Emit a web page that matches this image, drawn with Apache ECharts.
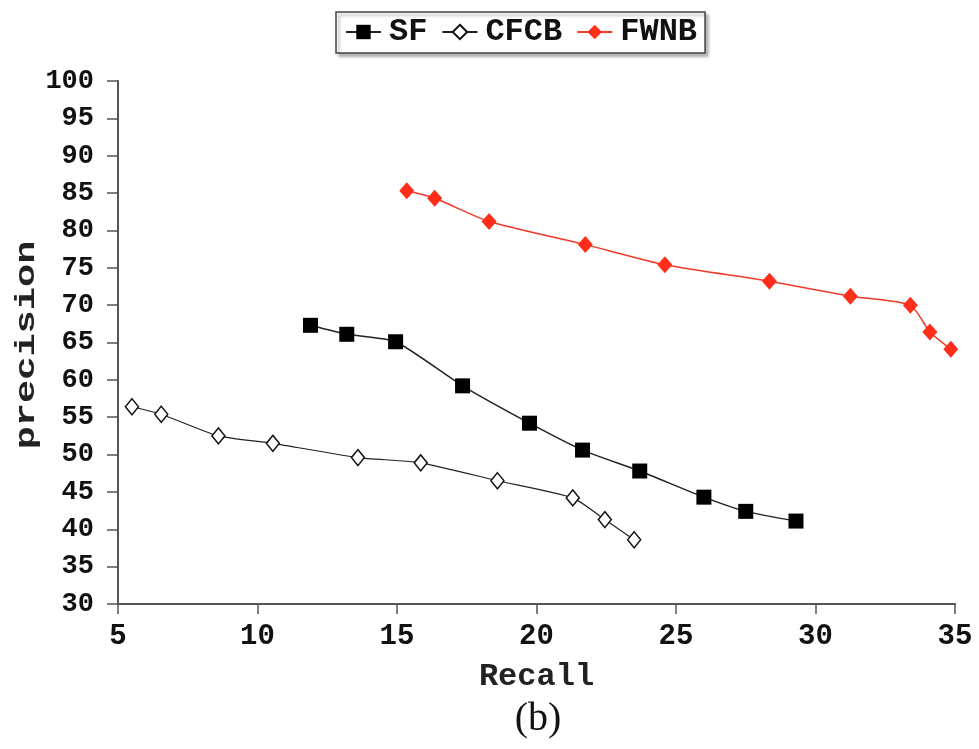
<!DOCTYPE html>
<html>
<head>
<meta charset="utf-8">
<script src="https://cdn.jsdelivr.net/npm/echarts@6/dist/echarts.min.js"></script>
<style>html,body{margin:0;padding:0;background:#fff}#c{width:979px;height:749px}</style>
</head>
<body>
<div id="c"></div>
<script>
const seriesNames = ['SF', 'CFCB', 'FWNB'];
const sfRecall = [11.9, 13.2, 14.95, 17.35, 19.75, 21.65, 23.7, 26.0, 27.5, 29.3];
const sfPrecision = [67.3, 66.1, 65.1, 59.2, 54.2, 50.6, 47.8, 44.3, 42.4, 41.1];
const cfcbRecall = [5.5, 6.55, 8.6, 10.55, 13.6, 15.85, 18.6, 21.3, 22.45, 23.5];
const cfcbPrecision = [56.4, 55.4, 52.5, 51.5, 49.6, 48.9, 46.5, 44.2, 41.3, 38.6];
const fwnbRecall = [15.35, 16.35, 18.3, 21.75, 24.6, 28.35, 31.25, 33.4, 34.1, 34.85];
const fwnbPrecision = [85.3, 84.3, 81.2, 78.1, 75.4, 73.2, 71.2, 70.0, 66.4, 64.1];
const xTicks = {min: 5, max: 35, interval: 5};
const yTicks = {min: 30, max: 100, interval: 5};
const xTitle = 'Recall';
const yTitle = 'precision';
const caption = '(b)';

const pair = (xs, ys) => xs.map((x, i) => [x, ys[i]]);
const mono = '"Liberation Mono", "DejaVu Sans Mono", monospace';

const chart = echarts.init(document.getElementById('c'));
chart.setOption({
  animation: false,
  backgroundColor: '#fff',
  graphic: [
    {
      type: 'text', x: 538, y: 719,
      style: {text: caption, font: '40px "Liberation Serif", serif', fill: '#111',
              textAlign: 'center', textVerticalAlign: 'middle'}
    },
    {
      type: 'text', x: 27, y: 345, rotation: Math.PI / 2, scaleX: 1.38, scaleY: 1,
      style: {text: yTitle, font: 'bold 28px "Liberation Mono", monospace', fill: '#222',
              textAlign: 'center', textVerticalAlign: 'middle'}
    }
  ],
  legend: {
    data: seriesNames,
    top: 12, left: 336,
    padding: [4, 8, 5, 9],
    itemGap: 14, itemWidth: 35, itemHeight: 18,
    borderColor: '#444', borderWidth: 1.5,
    shadowColor: 'rgba(0,0,0,0.3)', shadowOffsetX: 3, shadowOffsetY: 3, shadowBlur: 3,
    backgroundColor: '#fff',
    textStyle: {fontFamily: mono, fontSize: 32, fontWeight: 'bold', color: '#111', padding: [0, 0, 0, 3]}
  },
  grid: {left: 118, right: 24, top: 81, bottom: 145, outerBoundsMode: 'none', containLabel: false},
  xAxis: {
    type: 'value', min: xTicks.min, max: xTicks.max, interval: xTicks.interval,
    name: xTitle, nameLocation: 'middle', nameGap: 57,
    nameTextStyle: {fontFamily: mono, fontSize: 32, fontWeight: 'bold', color: '#222'},
    axisLine: {show: true, onZero: false, lineStyle: {color: '#555', width: 2}},
    axisTick: {show: true, length: 10, lineStyle: {color: '#555', width: 1.5}},
    axisLabel: {fontFamily: mono, fontSize: 29, fontWeight: 'bold', color: '#111', margin: 18},
    splitLine: {show: false}
  },
  yAxis: {
    type: 'value', min: yTicks.min, max: yTicks.max, interval: yTicks.interval,
    axisLine: {show: true, onZero: false, lineStyle: {color: '#555', width: 2}},
    axisTick: {show: true, length: 11, lineStyle: {color: '#555', width: 1.5}},
    axisLabel: {fontFamily: mono, fontSize: 27, fontWeight: 'bold', color: '#111', margin: 24},
    splitLine: {show: false}
  },
  series: [
    {
      name: 'SF', type: 'line', data: pair(sfRecall, sfPrecision),
      symbol: 'rect', symbolSize: 15, smooth: 0.2,
      lineStyle: {color: '#222', width: 1.5},
      itemStyle: {color: '#000', borderColor: '#000', borderWidth: 0}
    },
    {
      name: 'CFCB', type: 'line', data: pair(cfcbRecall, cfcbPrecision),
      symbol: 'diamond', symbolSize: [13, 16], smooth: 0.2,
      lineStyle: {color: '#222', width: 1.2},
      itemStyle: {color: '#fff', borderColor: '#111', borderWidth: 1.5}
    },
    {
      name: 'FWNB', type: 'line', data: pair(fwnbRecall, fwnbPrecision),
      symbol: 'diamond', symbolSize: [15, 17], smooth: 0.2,
      lineStyle: {color: '#f03a2a', width: 1.5},
      itemStyle: {color: '#ff2d1a', borderWidth: 0}
    }
  ]
});
</script>
</body>
</html>
